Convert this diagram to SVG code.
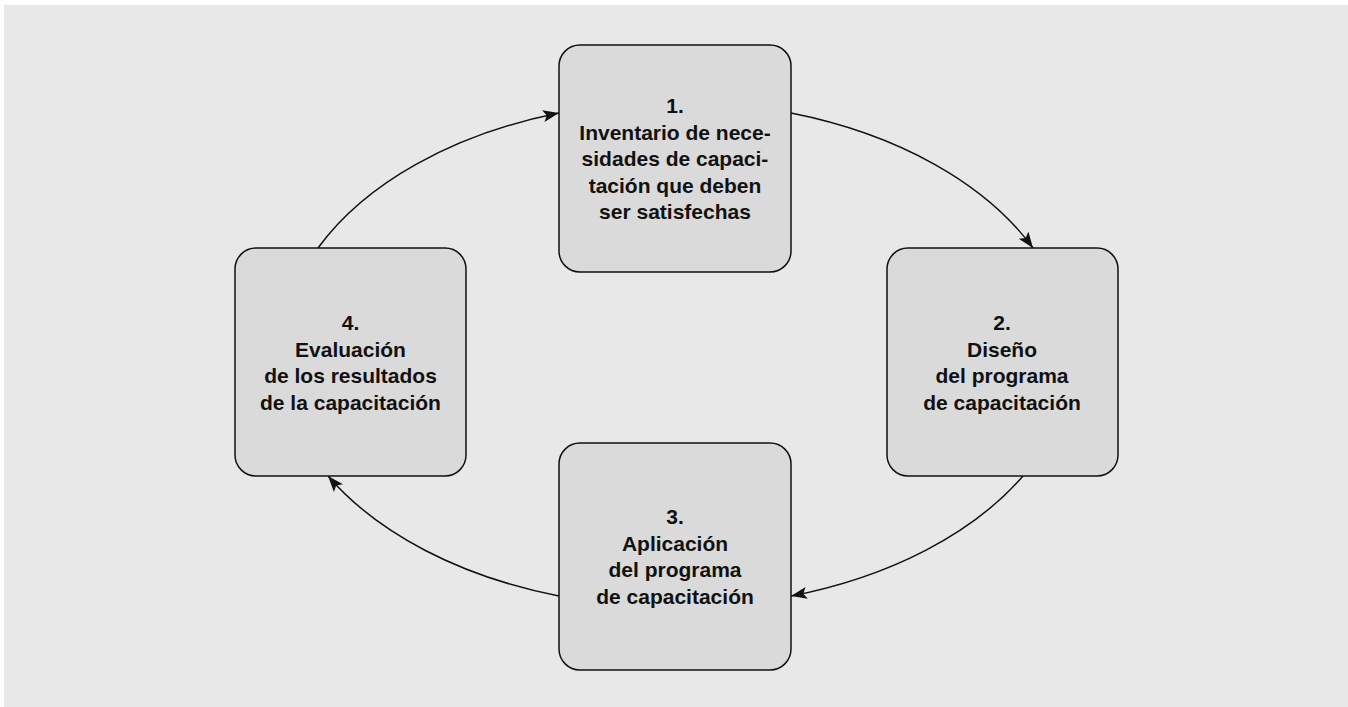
<svg xmlns="http://www.w3.org/2000/svg" width="1348" height="707" viewBox="0 0 1348 707">
  <style>
    .box { fill: #dadada; stroke: #111; stroke-width: 1.5; }
    .lbl { font-family: "Liberation Sans", Arial, Helvetica, sans-serif; font-weight: bold; font-size: 21px; fill: #111; text-anchor: middle; }
    .conn { fill: none; stroke: #111; stroke-width: 1.5; marker-end: url(#arr); }
  </style>
  <defs>
    <marker id="arr" markerUnits="userSpaceOnUse" markerWidth="17" markerHeight="13" refX="16" refY="6" orient="auto">
      <path d="M0,0 L16,6 L0,12 L3.5,6 z" fill="#111"/>
    </marker>
  </defs>
  <rect x="4" y="5" width="1344" height="702" fill="#e8e8e8"/>

  <g id="connectors">
    <path class="conn" d="M 791 113 A 396 255 0 0 1 1033 248"/>
    <path class="conn" d="M 1023 476 A 396 255 0 0 1 791 596"/>
    <path class="conn" d="M 559 596 A 396 255 0 0 1 328 476"/>
    <path class="conn" d="M 318 248 A 396 255 0 0 1 559 113"/>
  </g>

  <g id="node1">
    <rect class="box" x="559" y="45" width="232" height="227" rx="21"/>
    <text class="lbl" x="675" y="113">1.</text>
    <text class="lbl" x="675" y="139.5">Inventario de nece-</text>
    <text class="lbl" x="675" y="166">sidades de capaci-</text>
    <text class="lbl" x="675" y="192.5">tación que deben</text>
    <text class="lbl" x="675" y="219">ser satisfechas</text>
  </g>

  <g id="node2">
    <rect class="box" x="887" y="248" width="231" height="228" rx="21"/>
    <text class="lbl" x="1002" y="330">2.</text>
    <text class="lbl" x="1002" y="356.5">Diseño</text>
    <text class="lbl" x="1002" y="383">del programa</text>
    <text class="lbl" x="1002" y="409.5">de capacitación</text>
  </g>

  <g id="node3">
    <rect class="box" x="559" y="443" width="232" height="227" rx="21"/>
    <text class="lbl" x="675" y="524">3.</text>
    <text class="lbl" x="675" y="550.5">Aplicación</text>
    <text class="lbl" x="675" y="577">del programa</text>
    <text class="lbl" x="675" y="603.5">de capacitación</text>
  </g>

  <g id="node4">
    <rect class="box" x="235" y="248" width="231" height="228" rx="21"/>
    <text class="lbl" x="350.5" y="330">4.</text>
    <text class="lbl" x="350.5" y="356.5">Evaluación</text>
    <text class="lbl" x="350.5" y="383">de los resultados</text>
    <text class="lbl" x="350.5" y="409.5">de la capacitación</text>
  </g>
</svg>
